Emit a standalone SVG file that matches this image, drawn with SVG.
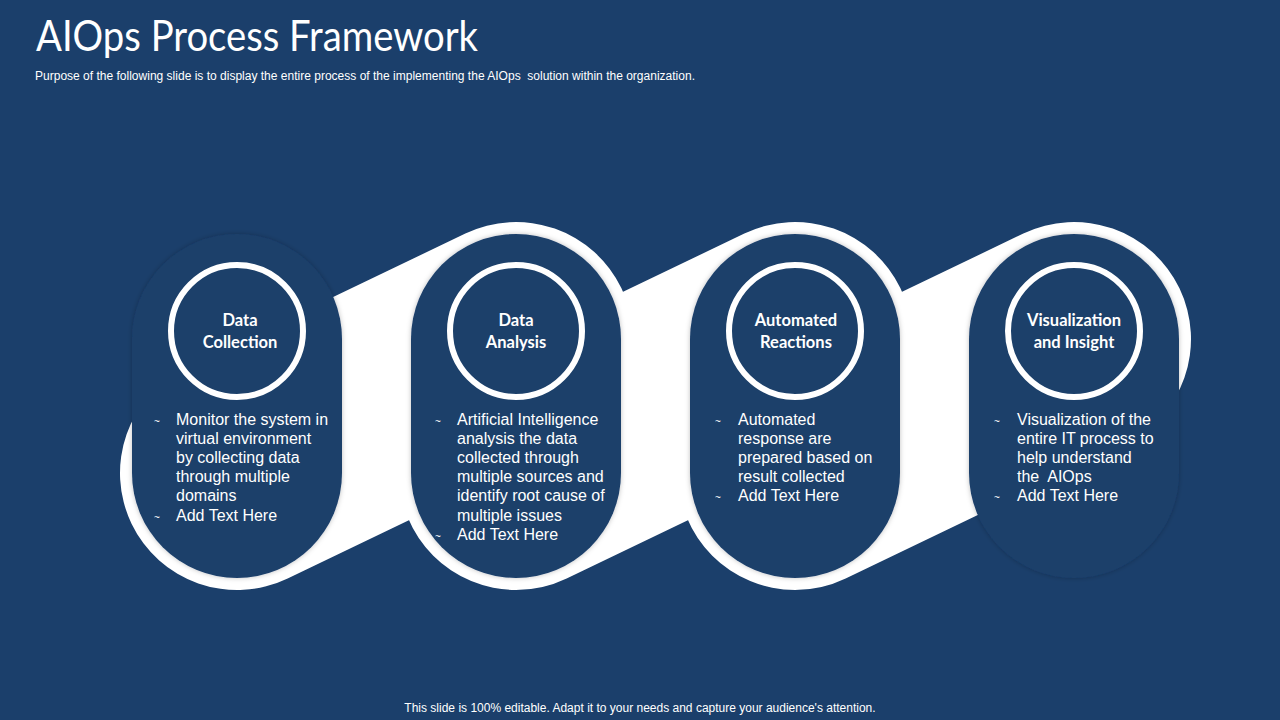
<svg xmlns="http://www.w3.org/2000/svg" width="1280" height="720" viewBox="0 0 1280 720">
  <defs>
    <style>
      .title { font-family: Lato, "Noto Sans", sans-serif; font-size: 42px; fill: #ffffff; }
      .sub { font-family: "Liberation Sans", Arial, sans-serif; font-size: 12px; fill: #ffffff; }
      .pill { fill: #1b3f6b; filter: url(#soft); }
      .ring { fill: none; stroke: #ffffff; stroke-width: 6; }
      .head { font-family: Lato, "Noto Sans", sans-serif; font-weight: 700; font-size: 16.5px; fill: #ffffff; text-anchor: middle; }
      .body { font-family: "Liberation Sans", Arial, sans-serif; font-size: 16px; fill: #ffffff; }
      .dot { font-family: "Liberation Sans", Arial, sans-serif; font-size: 10px; fill: #ffffff; }
    </style>
    <filter id="soft" x="-20%" y="-20%" width="140%" height="140%">
      <feDropShadow dx="0" dy="0" stdDeviation="2.5" flood-color="#000000" flood-opacity="0.25"/>
    </filter>
  </defs>

  <!-- background -->
  <rect x="0" y="0" width="1280" height="720" fill="#1b3f6b"/>

  <!-- heading -->
  <text class="title" x="36" y="51" textLength="442" lengthAdjust="spacingAndGlyphs">AIOps Process Framework</text>
  <text class="sub" x="35" y="80" textLength="660" lengthAdjust="spacingAndGlyphs" xml:space="preserve">Purpose of the following slide is to display the entire process of the implementing the AIOps  solution within the organization.</text>

  <!-- white zig-zag ribbon linking the stages -->
  <g id="connectors">
    <polyline points="237,473 516,339 516,473 795,339 795,473 1074,339" fill="none" stroke="#ffffff" stroke-width="234" stroke-linecap="round" stroke-linejoin="round"/>
  </g>

  <!-- stage 1 -->
  <g id="data-collection">
    <rect class="pill" x="132" y="234" width="210" height="344" rx="105" ry="105"/>
    <circle class="ring" cx="237" cy="331" r="66"/>
    <text class="head" x="240" y="326">Data</text>
    <text class="head" x="240" y="348">Collection</text>
    <text class="dot" x="154" y="425">~</text>
    <text class="body" x="176" y="425">Monitor the system in</text>
    <text class="body" x="176" y="444">virtual environment</text>
    <text class="body" x="176" y="463">by collecting data</text>
    <text class="body" x="176" y="482">through multiple</text>
    <text class="body" x="176" y="501">domains</text>
    <text class="dot" x="154" y="521">~</text>
    <text class="body" x="176" y="521">Add Text Here</text>
  </g>

  <!-- stage 2 -->
  <g id="data-analysis">
    <rect class="pill" x="411" y="234" width="210" height="344" rx="105" ry="105"/>
    <circle class="ring" cx="516" cy="331" r="66"/>
    <text class="head" x="516" y="326">Data</text>
    <text class="head" x="516" y="348">Analysis</text>
    <text class="dot" x="435" y="425">~</text>
    <text class="body" x="457" y="425">Artificial Intelligence</text>
    <text class="body" x="457" y="444">analysis the data</text>
    <text class="body" x="457" y="463">collected through</text>
    <text class="body" x="457" y="482">multiple sources and</text>
    <text class="body" x="457" y="501">identify root cause of</text>
    <text class="body" x="457" y="521">multiple issues</text>
    <text class="dot" x="435" y="540">~</text>
    <text class="body" x="457" y="540">Add Text Here</text>
  </g>

  <!-- stage 3 -->
  <g id="automated-reactions">
    <rect class="pill" x="690" y="234" width="210" height="344" rx="105" ry="105"/>
    <circle class="ring" cx="795" cy="331" r="66"/>
    <text class="head" x="796" y="326">Automated</text>
    <text class="head" x="796" y="348">Reactions</text>
    <text class="dot" x="715" y="425">~</text>
    <text class="body" x="738" y="425">Automated</text>
    <text class="body" x="738" y="444">response are</text>
    <text class="body" x="738" y="463">prepared based on</text>
    <text class="body" x="738" y="482">result collected</text>
    <text class="dot" x="715" y="501">~</text>
    <text class="body" x="738" y="501">Add Text Here</text>
  </g>

  <!-- stage 4 -->
  <g id="visualization-insight">
    <rect class="pill" x="969" y="234" width="210" height="344" rx="105" ry="105"/>
    <circle class="ring" cx="1074" cy="331" r="66"/>
    <text class="head" x="1074" y="326">Visualization</text>
    <text class="head" x="1074" y="348">and Insight</text>
    <text class="dot" x="994" y="425">~</text>
    <text class="body" x="1017" y="425">Visualization of the</text>
    <text class="body" x="1017" y="444">entire IT process to</text>
    <text class="body" x="1017" y="463">help understand</text>
    <text class="body" x="1017" y="482" xml:space="preserve">the  AIOps</text>
    <text class="dot" x="994" y="501">~</text>
    <text class="body" x="1017" y="501">Add Text Here</text>
  </g>

  <!-- footer -->
  <text class="sub" x="640" y="712" text-anchor="middle">This slide is 100% editable. Adapt it to your needs and capture your audience's attention.</text>
</svg>
